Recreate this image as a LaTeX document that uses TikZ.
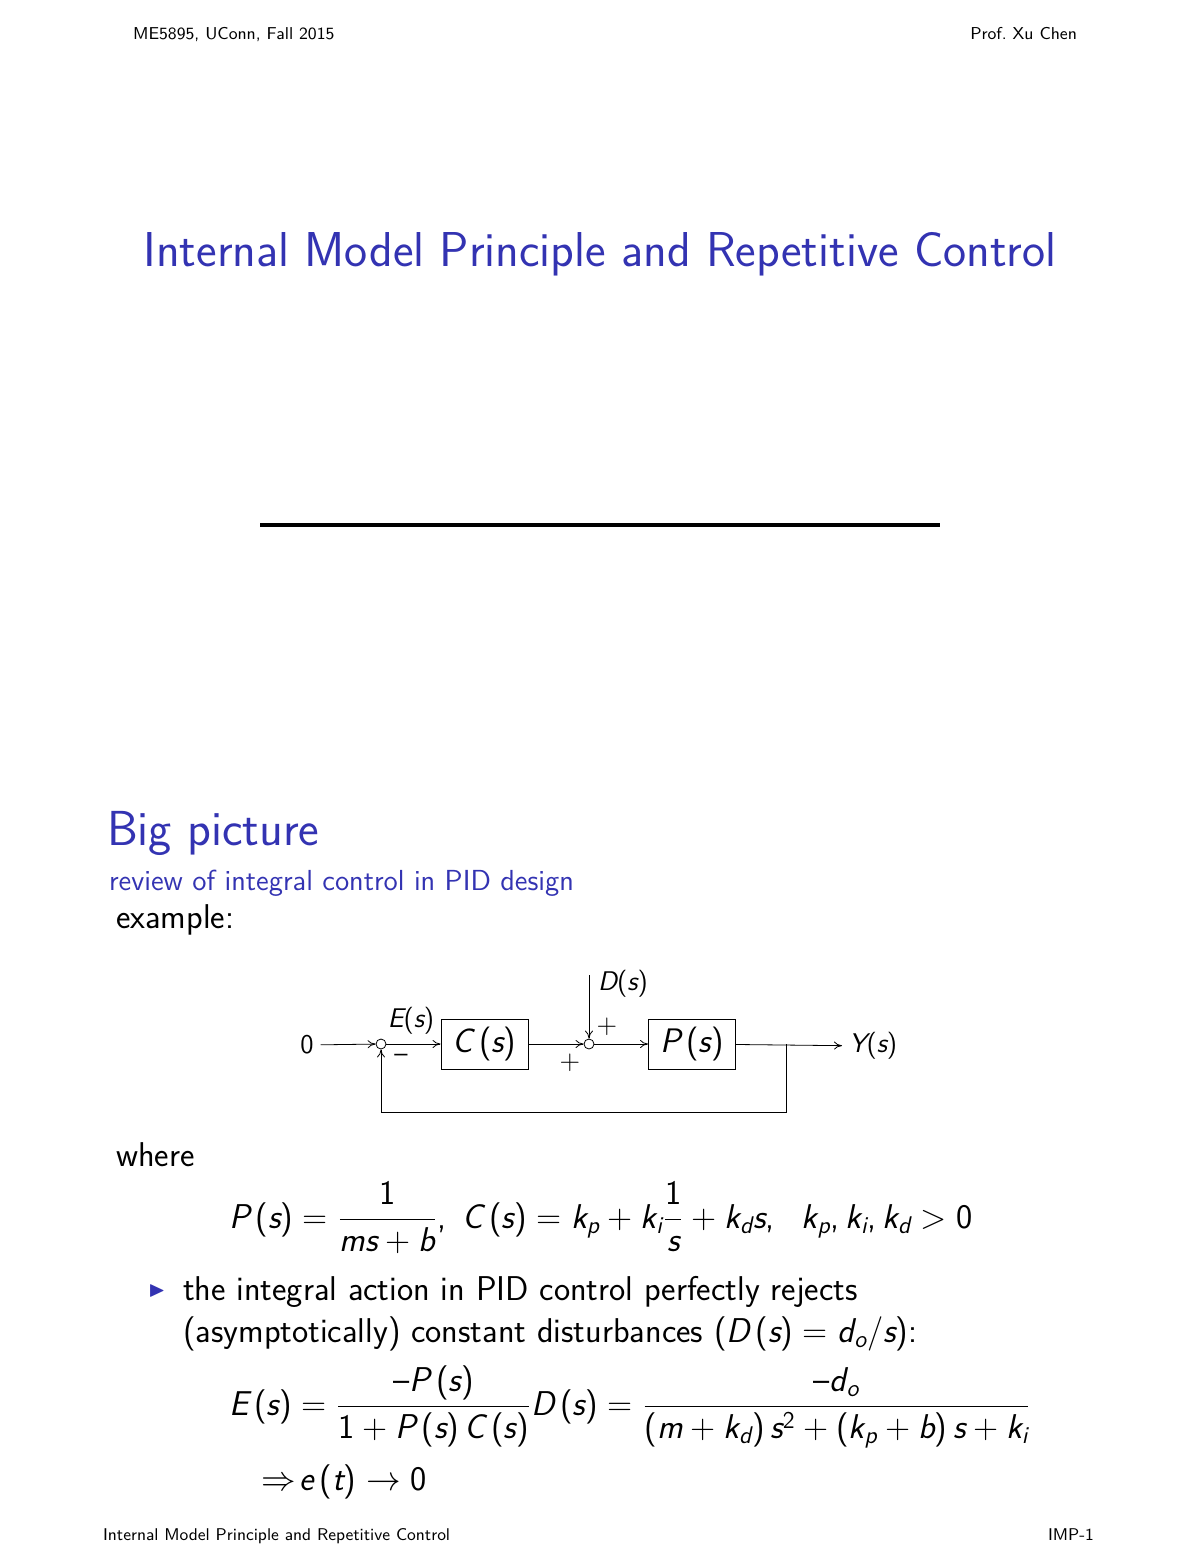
\documentclass[tikz,border=0pt]{standalone}
\usepackage{amsmath,amssymb}
\renewcommand{\familydefault}{\sfdefault}
\usepackage[italic,defaultmathsizes]{mathastext}
\usetikzlibrary{arrows.meta}
\definecolor{bblue}{rgb}{0.2,0.2,0.7}
\begin{document}
\begin{tikzpicture}[x=0.5pt,y=-0.5pt,font=\sffamily,
  blk/.style={draw,minimum width=43.5pt,minimum height=25pt,inner sep=0pt,font=\sffamily\fontsize{17}{20}\selectfont},
  sumc/.style={draw,circle,minimum size=5pt,inner sep=0pt},
  arr/.style={-{To[length=4pt,width=4pt]}},
  body/.style={anchor=base west,font=\sffamily\fontsize{17.2}{20}\selectfont},
  lbl/.style={font=\sffamily\fontsize{13.5}{16}\selectfont}]
\useasboundingbox (0,0) rectangle (1200,1553);
\node[anchor=base west,font=\sffamily\fontsize{8.6}{10}\selectfont] (h1) at (126,39) {ME5895, UConn, Fall 2015};
\node[anchor=base east,font=\sffamily\fontsize{8.6}{10}\selectfont] (h2) at (1084,39) {Prof.\ Xu Chen};
\node[anchor=base,text=bblue,font=\sffamily\fontsize{24.5}{28}\selectfont] (title) at (600,266) {Internal Model Principle and Repetitive Control};
\draw[line width=2pt] (260,525) -- (940,525);
\node[anchor=base west,text=bblue,font=\sffamily\fontsize{24.6}{28}\selectfont] (bp) at (100,845) {Big picture};
\node[anchor=base west,text=bblue,font=\sffamily\fontsize{14.5}{17}\selectfont] (rv) at (102,890) {review of integral control in PID design};
\node[body] (ex) at (109,928) {example:};
% diagram
\node[lbl] (zero) at (307,1045) {$0$};
\node[sumc] (s1) at (381,1044) {};
\node[blk] (C) at (484.5,1044) {$C\,(s)$};
\node[sumc] (s2) at (589,1044) {};
\node[blk] (P) at (692,1044) {$P\,(s)$};
\coordinate (br) at (786,1044);
\coordinate (fb) at (786,1112);
\coordinate (fb2) at (381,1112);
\coordinate (dtop) at (589,975);
\node[lbl,anchor=west] (Y) at (842,1046) {$Y(s)$};
\draw[arr] (zero) -- (s1);
\draw[arr] (s1) -- (C);
\draw[arr] (C) -- (s2);
\draw[arr] (s2) -- (P);
\draw[arr] (P) -- (Y);
\draw[arr] (br) -- (fb) -- (fb2) -- (s1);
\draw[arr] (dtop) -- (s2);
\node[lbl] (D) at (623,984) {$D(s)$};
\node[lbl] (E) at (411,1021) {$E(s)$};
\node[lbl] (m) at (401,1058) {$-$};
\node[lbl] (p1) at (607,1027) {$+$};
\node[lbl] (p2) at (570,1063) {$+$};
\node[body] (wh) at (109,1166) {where};
\node[body] (eq1) at (222,1228) {$P\,(s)=\dfrac{1}{ms+b},\ C\,(s)=k_p+k_i\dfrac{1}{s}+k_ds,\ \ k_p,k_i,k_d>0$};
\node[text=bblue,font=\fontsize{11}{12}\selectfont] (tri) at (157,1291) {$\blacktriangleright$};
\node[body] (l1) at (176,1300) {the integral action in PID control perfectly rejects};
\node[body] (l2) at (176,1342) {(asymptotically) constant disturbances ($D\,(s)=d_o/s$):};
\node[body] (eq2) at (222,1415) {$E\,(s)=\dfrac{-P\,(s)}{1+P\,(s)\,C\,(s)}D\,(s)=\dfrac{-d_o}{(m+k_d)\,s^2+(k_p+b)\,s+k_i}$};
\node[body] (eq3) at (254,1490) {$\Rightarrow\! e\,(t)\to 0$};
\node[anchor=base west,font=\sffamily\fontsize{8.5}{10}\selectfont] (f1) at (96,1540) {Internal Model Principle and Repetitive Control};
\node[anchor=base east,font=\sffamily\fontsize{8.5}{10}\selectfont] (f2) at (1101,1540) {IMP-1};
\end{tikzpicture}
\end{document}
